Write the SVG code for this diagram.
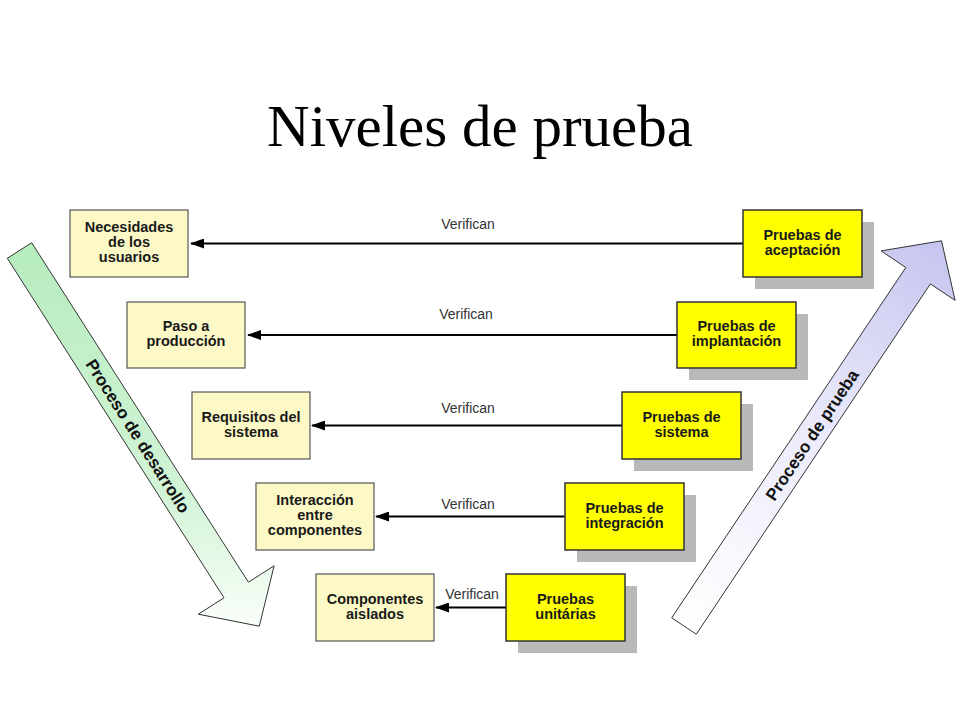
<svg xmlns="http://www.w3.org/2000/svg" width="960" height="720" viewBox="0 0 960 720">
<defs>
<style>
.req{fill:#fcf9c6;stroke:#555;stroke-width:1.2}
.tst{fill:#ffff00;stroke:#333;stroke-width:1.5}
.sh{fill:#b9b9b9}
.nt{font-family:"Liberation Sans",Arial,sans-serif;font-weight:bold;font-size:14.5px;fill:#1a1a1a;text-anchor:middle}
.lbl{font-family:"Liberation Sans",Arial,sans-serif;font-size:14px;fill:#333;text-anchor:middle}
.con{stroke:#000;stroke-width:2;fill:none;marker-end:url(#ah)}
.big{font-family:"Liberation Sans",Arial,sans-serif;font-weight:bold;font-size:17px;fill:#111;text-anchor:middle}
</style>
<marker id="ah" viewBox="0 0 14 10" refX="13" refY="5" markerWidth="14" markerHeight="10" markerUnits="userSpaceOnUse" orient="auto">
<path d="M0,0 L14,5 L0,10 Z" fill="#000"/>
</marker>
<linearGradient id="gGreen" gradientUnits="userSpaceOnUse" x1="140" y1="243" x2="140" y2="630">
<stop offset="0" stop-color="#b6ecbe"/>
<stop offset="0.65" stop-color="#d2f4d6"/>
<stop offset="1" stop-color="#fbfffb"/>
</linearGradient>
<linearGradient id="gLav" gradientUnits="userSpaceOnUse" x1="690" y1="630" x2="955" y2="245">
<stop offset="0" stop-color="#ffffff"/>
<stop offset="0.5" stop-color="#ebebfb"/>
<stop offset="1" stop-color="#c4c4f0"/>
</linearGradient>
</defs>
<rect width="960" height="720" fill="#fff"/>
<text x="480" y="146" font-family="'Liberation Serif','Times New Roman',serif" font-size="59" text-anchor="middle" fill="#000">Niveles de prueba</text>

<g id="arrow-desarrollo">
<polygon points="7.3,258.3 31.7,242.7 248.4,582.2 274.1,565.8 259.3,626.2 198.3,614.2 224.0,597.8" fill="url(#gGreen)" stroke="#333" stroke-width="1"/>
<text class="big" transform="translate(138,436) rotate(57.5)" y="6">Proceso de desarrollo</text>
</g>
<g id="arrow-prueba">
<polygon points="671.7,617.8 905.8,267.5 881.1,250.9 941.5,240.8 955.1,300.4 930.4,283.9 696.3,634.2" fill="url(#gLav)" stroke="#333" stroke-width="1"/>
<text class="big" transform="translate(812,435) rotate(-56.3)" y="6">Proceso de prueba</text>
</g>

<g id="connectors">
<line class="con" x1="743" y1="243.5" x2="191" y2="243.5"/>
<line class="con" x1="677" y1="335" x2="248" y2="335"/>
<line class="con" x1="622" y1="425.5" x2="312" y2="425.5"/>
<line class="con" x1="565" y1="516.5" x2="376" y2="516.5"/>
<line class="con" x1="506" y1="607.5" x2="436" y2="607.5"/>
<text class="lbl" x="468" y="229">Verifican</text>
<text class="lbl" x="466" y="319">Verifican</text>
<text class="lbl" x="468" y="413">Verifican</text>
<text class="lbl" x="468" y="509">Verifican</text>
<text class="lbl" x="472" y="599">Verifican</text>
</g>

<g id="n-necesidades">
<rect class="req" x="70" y="210" width="118" height="67"/>
<text class="nt" x="129" y="232">Necesidades</text>
<text class="nt" x="129" y="247">de los</text>
<text class="nt" x="129" y="262">usuarios</text>
</g>
<g id="n-paso">
<rect class="req" x="127" y="302" width="118" height="66"/>
<text class="nt" x="186" y="331">Paso a</text>
<text class="nt" x="186" y="346">producción</text>
</g>
<g id="n-requisitos">
<rect class="req" x="192" y="392" width="118" height="67"/>
<text class="nt" x="251" y="421.5">Requisitos del</text>
<text class="nt" x="251" y="436.5">sistema</text>
</g>
<g id="n-interaccion">
<rect class="req" x="256" y="483" width="118" height="67"/>
<text class="nt" x="315" y="505">Interacción</text>
<text class="nt" x="315" y="520">entre</text>
<text class="nt" x="315" y="535">componentes</text>
</g>
<g id="n-componentes">
<rect class="req" x="316" y="574" width="118" height="67"/>
<text class="nt" x="375" y="603.5">Componentes</text>
<text class="nt" x="375" y="618.5">aislados</text>
</g>

<g id="t-aceptacion">
<rect class="sh" x="755" y="222" width="119" height="67"/>
<rect class="tst" x="743" y="210" width="119" height="67"/>
<text class="nt" x="802.5" y="239.5">Pruebas de</text>
<text class="nt" x="802.5" y="254.5">aceptación</text>
</g>
<g id="t-implantacion">
<rect class="sh" x="689" y="314" width="119" height="66"/>
<rect class="tst" x="677" y="302" width="119" height="66"/>
<text class="nt" x="736.5" y="331">Pruebas de</text>
<text class="nt" x="736.5" y="346">implantación</text>
</g>
<g id="t-sistema">
<rect class="sh" x="634" y="404" width="119" height="67"/>
<rect class="tst" x="622" y="392" width="119" height="67"/>
<text class="nt" x="681.5" y="421.5">Pruebas de</text>
<text class="nt" x="681.5" y="436.5">sistema</text>
</g>
<g id="t-integracion">
<rect class="sh" x="577" y="495" width="119" height="67"/>
<rect class="tst" x="565" y="483" width="119" height="67"/>
<text class="nt" x="624.5" y="512.5">Pruebas de</text>
<text class="nt" x="624.5" y="527.5">integración</text>
</g>
<g id="t-unitarias">
<rect class="sh" x="518" y="586" width="119" height="67"/>
<rect class="tst" x="506" y="574" width="119" height="67"/>
<text class="nt" x="565.5" y="603.5">Pruebas</text>
<text class="nt" x="565.5" y="618.5">unitárias</text>
</g>
</svg>
